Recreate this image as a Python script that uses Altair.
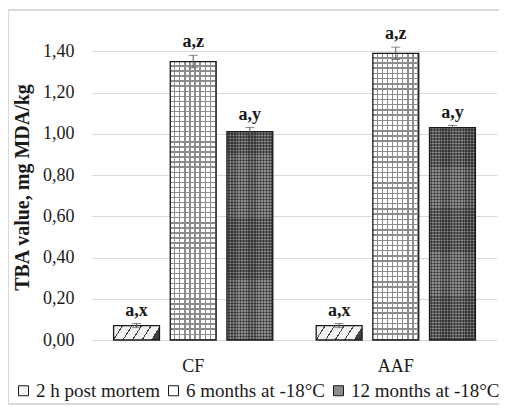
import altair as alt
import pandas as pd

groups = ["CF", "AAF"]
series = ["2 h post mortem", "6 months at -18°C", "12 months at -18°C"]
means_cf = [0.07, 1.35, 1.01]
means_aaf = [0.07, 1.39, 1.03]
err_cf = [0.01, 0.03, 0.02]
err_aaf = [0.01, 0.03, 0.01]
labels = ["a,x", "a,z", "a,y"]
y_ticks = [0.0, 0.2, 0.4, 0.6, 0.8, 1.0, 1.2, 1.4]

rows = []
for g, ms, es in [("CF", means_cf, err_cf), ("AAF", means_aaf, err_aaf)]:
    for s, m, e, l in zip(series, ms, es, labels):
        rows.append({"group": g, "series": s, "mean": m, "lo": m - e, "hi": m + e, "label": l})
df = pd.DataFrame(rows)

FONT = "Liberation Serif, Times New Roman, serif"
TXT = "#1a1a1a"


def stripes(n, frac, line, bg="rgba(0,0,0,0)"):
    stops = []
    for i in range(n):
        a = i / n
        b = (i + 1 - frac) / n
        c = (i + 1) / n
        stops += [
            alt.GradientStop(offset=a, color=bg),
            alt.GradientStop(offset=b, color=bg),
            alt.GradientStop(offset=b, color=line),
            alt.GradientStop(offset=c, color=line),
        ]
    return stops


def grad(n, frac, line, direction, bg="rgba(0,0,0,0)", k=0.2):
    if direction == "v":
        x2, y2 = 1, 0
    elif direction == "h":
        x2, y2 = 0, 1
    else:
        x2, y2 = 1, k
    return alt.LinearGradient(gradient="linear", stops=stripes(n, frac, line, bg),
                              x1=0, y1=0, x2=x2, y2=y2)


x_enc = alt.X("group:N", sort=groups, title=None,
              scale=alt.Scale(paddingInner=0.161, paddingOuter=0.08),
              axis=alt.Axis(labelAngle=0, domain=False, ticks=False, labelFont=FONT,
                            labelFontSize=18, labelColor=TXT, labelPadding=17))
xo_enc = alt.XOffset("series:N", sort=series,
                     scale=alt.Scale(paddingInner=0.19, paddingOuter=0.095))
y_enc = alt.Y("mean:Q", title="TBA value, mg MDA/kg",
              scale=alt.Scale(domain=[0, 1.6], nice=False),
              axis=alt.Axis(values=y_ticks, domain=False, ticks=False,
                            labelExpr="replace(format(datum.value, '.2f'), '.', ',')",
                            labelFont=FONT, labelFontSize=18, labelColor=TXT, labelPadding=18,
                            gridColor="#d9d9d9", gridWidth=1,
                            titleFont=FONT, titleFontSize=20, titleFontWeight="bold",
                            titleColor=TXT, titlePadding=10, titleY=177))

base = alt.Chart(df).encode(x=x_enc, xOffset=xo_enc, y=y_enc)

bars = base.mark_bar().encode(
    color=alt.Color("series:N", sort=series,
                    scale=alt.Scale(domain=series, range=["#f2f2f2", "#ffffff", "#8c8c8c"]),
                    legend=alt.Legend(title=None, orient="none", direction="horizontal",
                                      legendX=-78, legendY=371, columns=3, padding=0,
                                      labelFont=FONT, labelFontSize=19, labelColor=TXT,
                                      symbolType="square", symbolSize=100,
                                      symbolStrokeColor="#1a1a1a", symbolStrokeWidth=1,
                                      labelOffset=3, columnPadding=3))
)


def overlay(sname, fill):
    return base.transform_filter(alt.datum.series == sname).mark_bar(fill=fill)


ov_2h = overlay(series[0], grad(5, 0.12, "#404040", "d", k=0.2))
ov_6v = overlay(series[1], grad(9, 0.28, "#8c8c8c", "v"))
ov_6h = overlay(series[1], grad(55, 0.28, "#8c8c8c", "h"))
ov_12v = overlay(series[2], grad(16, 0.5, "rgba(0,0,0,0.38)", "v"))
ov_12h = overlay(series[2], grad(70, 0.5, "rgba(0,0,0,0.38)", "h"))

outline = base.mark_bar(fillOpacity=0, stroke="#1a1a1a", strokeWidth=1.3)

err_rule = base.mark_rule(color="#595959", strokeWidth=1).encode(
    y=alt.Y("lo:Q"), y2="hi:Q")
err_lo = base.mark_tick(orient="horizontal", size=9, thickness=1, color="#595959").encode(
    y=alt.Y("lo:Q"))
err_hi = base.mark_tick(orient="horizontal", size=9, thickness=1, color="#595959").encode(
    y=alt.Y("hi:Q"))

text = base.mark_text(font=FONT, fontSize=18, fontWeight="bold", color=TXT,
                      baseline="alphabetic", dy=-8).encode(y=alt.Y("hi:Q"), text="label:N")

border = alt.Chart(df).mark_rect(fillOpacity=0, stroke="#d9d9d9", strokeWidth=1).encode(
    x=alt.value(-84), x2=alt.value(440), y=alt.value(0), y2=alt.value(394))

chart = alt.layer(bars, ov_2h, ov_6v, ov_6h, ov_12v, ov_12h, outline,
                  err_rule, err_lo, err_hi, text, border).properties(
    width=405, height=330,
    autosize=alt.AutoSizeParams(type="none"),
    padding={"left": 84, "top": 2, "right": 2, "bottom": 65},
).configure_view(stroke=None)

chart.save("out.html", embed_options={"renderer": "svg", "actions": False})
